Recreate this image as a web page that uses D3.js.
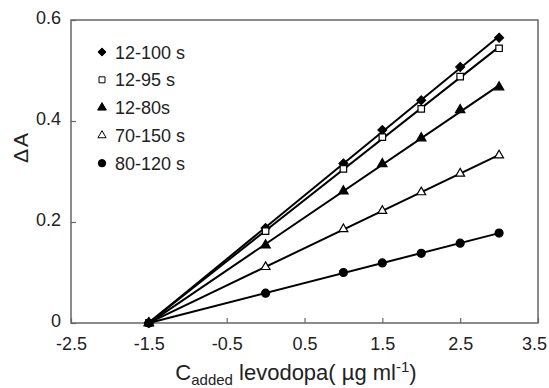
<!DOCTYPE html>
<html>
<head>
<meta charset="utf-8">
<script src="https://cdn.jsdelivr.net/npm/d3@7"></script>
<style>
body { margin: 0; background: #fff; }
text { font-family: "Liberation Sans", Arial, sans-serif; fill: #222; }
</style>
</head>
<body>
<div id="chart"></div>
<script>
// data
xValues = [-1.5, 0, 1, 1.5, 2, 2.5, 3]
seriesNames = ['12-100 s', '12-95 s', '12-80s', '70-150 s', '80-120 s']
s12_100 = [0, 0.188, 0.316, 0.382, 0.441, 0.507, 0.565]
s12_95 = [0, 0.182, 0.305, 0.368, 0.424, 0.488, 0.544]
s12_80 = [0, 0.154, 0.261, 0.315, 0.366, 0.422, 0.467]
s70_150 = [0, 0.111, 0.186, 0.222, 0.259, 0.296, 0.332]
s80_120 = [0, 0.059, 0.100, 0.119, 0.138, 0.158, 0.178]
xTicks = [-2.5, -1.5, -0.5, 0.5, 1.5, 2.5, 3.5]
yTicks = [0, 0.2, 0.4, 0.6]

svgWidth = 549
svgHeight = 388
margin = {top: 20, left: 71, right: 11, bottom: 65}
width = svgWidth - margin.left - margin.right
height = svgHeight - margin.top - margin.bottom

svg = d3.select('#chart').append('svg')
        .attr('width', svgWidth)
        .attr('height', svgHeight)

g = svg.append('g').attr('transform', `translate(${margin.left},${margin.top})`)

xScale = d3.scaleLinear().domain([-2.5, 3.5]).range([0, width])
yScale = d3.scaleLinear().domain([0, 0.6]).range([height, 0])

// frame
g.append('rect')
 .attr('width', width).attr('height', height)
 .attr('fill', 'none').attr('stroke', '#666').attr('stroke-width', 1.5)

fmt = d => d === 0 ? '0' : d.toFixed(1)
xAxis = g.append('g').attr('transform', `translate(0,${height})`)
         .call(d3.axisBottom(xScale).tickValues(xTicks).tickSize(-5).tickPadding(14).tickFormat(fmt))
yAxis = g.append('g')
         .call(d3.axisLeft(yScale).tickValues(yTicks).tickSize(-5).tickPadding(10).tickFormat(fmt))
;[xAxis, yAxis].forEach(a => {
  a.select('.domain').remove()
  a.selectAll('line').attr('stroke', '#666').attr('stroke-width', 1.2)
  a.selectAll('text').attr('font-size', 18).style('fill', '#222')
})
yAxis.selectAll('.tick text').attr('dy', '0.2em')
// last label sits against the right edge
xAxis.selectAll('.tick text').filter(d => d === 3.5).attr('dx', -4)

allSeries = [s12_100, s12_95, s12_80, s70_150, s80_120]
symbols = [
  {type: d3.symbolDiamond2, size: 50, fill: '#000'},
  {type: d3.symbolSquare, size: 42, fill: '#fff'},
  {type: d3.symbolTriangle, size: 38, fill: '#000'},
  {type: d3.symbolTriangle, size: 34, fill: '#fff'},
  {type: d3.symbolCircle, size: 50, fill: '#000'}
]

line = d3.line().x(d => xScale(d[0])).y(d => yScale(d[1]))

// least-squares line through each series
allSeries.forEach(function(vals, i) {
  mx = d3.mean(xValues); my = d3.mean(vals)
  slope = d3.sum(xValues, (x, j) => (x - mx) * (vals[j] - my)) / d3.sum(xValues, x => (x - mx) * (x - mx))
  icpt = my - slope * mx
  ends = [xValues[0], xValues[xValues.length - 1]].map(x => [x, icpt + slope * x])
  g.append('path').datum(ends)
   .attr('d', line).attr('fill', 'none').attr('stroke', '#000').attr('stroke-width', 2)
})
allSeries.forEach(function(vals, i) {
  pts = xValues.map((x, j) => [x, vals[j]])
  g.selectAll('.m' + i).data(pts).enter().append('path')
   .attr('transform', d => `translate(${xScale(d[0])},${yScale(d[1])})`)
   .attr('d', d3.symbol().type(symbols[i].type).size(symbols[i].size))
   .attr('fill', symbols[i].fill).attr('stroke', '#000').attr('stroke-width', 1.2)
})

// legend
legend = g.append('g').attr('transform', 'translate(31,32)')
seriesNames.forEach(function(name, i) {
  row = legend.append('g').attr('transform', `translate(0,${i * 27.8})`)
  row.append('path')
     .attr('d', d3.symbol().type(symbols[i].type).size(symbols[i].size * 0.85))
     .attr('fill', symbols[i].fill).attr('stroke', '#000').attr('stroke-width', 1)
  row.append('text').attr('x', 13).attr('y', 6.5).attr('font-size', 18).text(name)
})

// axis titles
svg.append('text')
   .attr('transform', 'translate(28,147) rotate(-90)')
   .attr('text-anchor', 'middle').attr('font-size', 21).attr('letter-spacing', 2)
   .text('\u0394A')

xTitle = svg.append('text').attr('x', 296).attr('y', 380).attr('text-anchor', 'middle').attr('font-size', 22)
xTitle.append('tspan').text('C')
xTitle.append('tspan').attr('font-size', 15).attr('dy', 5).text('added')
xTitle.append('tspan').attr('dy', -5).text(' levodopa( \u00b5g ml')
xTitle.append('tspan').attr('font-size', 15).attr('dy', -8).text('-1')
xTitle.append('tspan').attr('dy', 8).text(')')
</script>
</body>
</html>
